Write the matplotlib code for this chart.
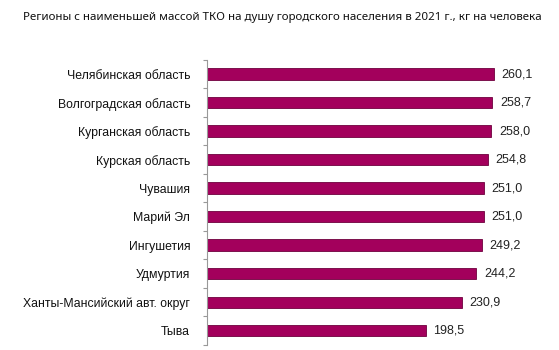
import matplotlib.pyplot as plt
import numpy as np

regions = ['Челябинская область', 'Волгоградская область', 'Курганская область',
           'Курская область', 'Чувашия', 'Марий Эл', 'Ингушетия', 'Удмуртия',
           'Ханты-Мансийский авт. округ', 'Тыва']
values = [260.1, 258.7, 258.0, 254.8, 251.0, 251.0, 249.2, 244.2, 230.9, 198.5]

fig = plt.figure(figsize=(5.59, 3.5), dpi=100)
ax = fig.add_axes([0.370, 0.0143, 0.596, 0.815])

y = np.arange(len(regions))[::-1]
ax.barh(y, values, height=0.4, color='#A3005C', edgecolor='#6E003D', linewidth=0.6)

for yi, v in zip(y, values):
    ax.text(v + 7, yi, f'{v:.1f}'.replace('.', ','), va='center', ha='left',
            fontsize=9, family='Liberation Sans', color='#222222')

ax.set_xlim(0, 302)
ax.set_ylim(-0.5, 9.5)
ax.set_yticks(y)
ax.set_yticklabels(regions, fontsize=8.8, family='Liberation Sans', color='#111111')
ax.tick_params(axis='y', which='major', length=0, pad=12)
ax.set_yticks(np.arange(-0.5, 10, 1), minor=True)
ax.tick_params(axis='y', which='minor', length=3, color='#999999', width=0.8)
ax.set_xticks([])
for s in ['top', 'right', 'bottom']:
    ax.spines[s].set_visible(False)
ax.spines['left'].set_color('#999999')
ax.spines['left'].set_linewidth(0.8)

fig.text(0.505, 0.951, 'Регионы с наименьшей массой ТКО на душу городского населения в 2021 г., кг на человека',
         ha='center', va='center', fontsize=8.3, family='Noto Sans', color='#111111')

plt.savefig('out.png', dpi=100)
